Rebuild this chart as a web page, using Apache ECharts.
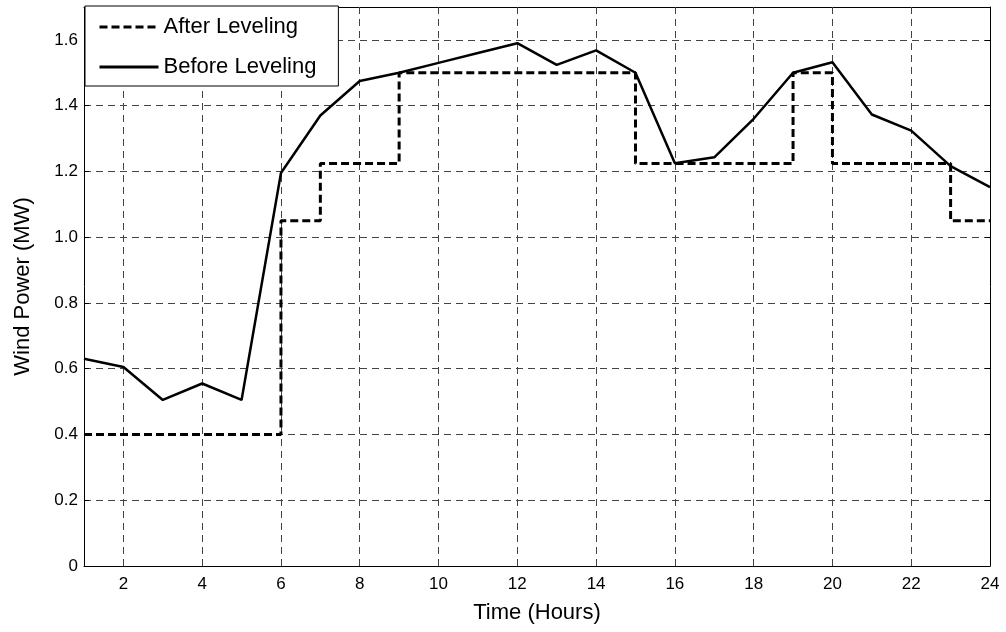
<!DOCTYPE html>
<html>
<head>
<meta charset="utf-8">
<script src="https://cdn.jsdelivr.net/npm/echarts@6/dist/echarts.min.js"></script>
<style>
html,body{margin:0;padding:0;background:#fff;}
#chart{width:1006px;height:632px;}
</style>
</head>
<body>
<div id="chart"></div>
<script>
var hours = [1,2,3,4,5,6,7,8,9,10,11,12,13,14,15,16,17,18,19,20,21,22,23,24];
var beforeLeveling = [0.63,0.605,0.505,0.555,0.505,1.195,1.37,1.475,1.5,1.53,1.56,1.59,1.524,1.568,1.5,1.225,1.243,1.36,1.5,1.532,1.373,1.324,1.216,1.152];
var afterLeveling = [0.4,0.4,0.4,0.4,0.4,1.05,1.224,1.224,1.5,1.5,1.5,1.5,1.5,1.5,1.224,1.224,1.224,1.224,1.5,1.224,1.224,1.224,1.05,1.05];
var xTicks = [2,4,6,8,10,12,14,16,18,20,22,24];
var seriesNames = ['After Leveling','Before Leveling'];
var xTitle = 'Time (Hours)';
var yTitle = 'Wind Power (MW)';

var FONT = 'Liberation Sans, Arial, sans-serif';
var chart = echarts.init(document.getElementById('chart'));
function pairs(xs, ys){ return xs.map(function(x,i){return [x, ys[i]];}); }
var gridDash = {color:'#444', width:1, type:[7,5]};

var xBase = {
  type:'value', min:1, max:24,
  axisLine:{show:true, onZero:false, lineStyle:{color:'#000', width:1}},
  axisTick:{show:true, inside:true, length:5, customValues:xTicks, lineStyle:{color:'#000'}},
  splitLine:{show:false}
};
var yBase = {
  type:'value', min:0, max:1.7, interval:0.2,
  axisLine:{show:true, onZero:false, lineStyle:{color:'#000', width:1}},
  axisTick:{show:true, inside:true, length:5, lineStyle:{color:'#000'}}
};

var option = {
  animation:false,
  backgroundColor:'#fff',
  grid:{left:84, right:16, top:7, bottom:66, show:false},
  legend:{
    orient:'vertical', left:85, top:6,
    padding:[10,22,8,13],
    itemWidth:59, itemHeight:20, itemGap:18,
    backgroundColor:'#fff', borderColor:'#000', borderWidth:1,
    itemStyle:{opacity:0},
    lineStyle:{width:3},
    textStyle:{fontFamily:FONT, fontSize:22, color:'#000'},
    data:seriesNames
  },
  xAxis:[
    Object.assign({}, xBase, {
      position:'bottom',
      name:xTitle, nameLocation:'middle', nameGap:36,
      nameTextStyle:{fontFamily:FONT, fontSize:22, color:'#000'},
      axisLabel:{show:true, customValues:xTicks, margin:10, fontFamily:FONT, fontSize:17, color:'#000'}
    }),
    Object.assign({}, xBase, {position:'top', axisLabel:{show:false}})
  ],
  yAxis:[
    Object.assign({}, yBase, {
      position:'left',
      name:yTitle, nameLocation:'middle', nameGap:50,
      nameTextStyle:{fontFamily:FONT, fontSize:22, color:'#000'},
      axisLabel:{margin:6, fontFamily:FONT, fontSize:17, color:'#000',
        formatter:function(v){ if (v > 1.65) return ''; return v === 0 ? '0' : v.toFixed(1); }},
      splitLine:{show:true, lineStyle:gridDash}
    }),
    Object.assign({}, yBase, {position:'right', axisLabel:{show:false}, splitLine:{show:false}})
  ],
  series:[
    {
      name:seriesNames[0], type:'line', step:'end',
      data:pairs(hours, afterLeveling),
      symbol:'none', z:4,
      lineStyle:{color:'#000', width:3, type:[8,4]},
      itemStyle:{color:'#000'},
      markLine:{
        silent:true, symbol:['none','none'], label:{show:false},
        lineStyle:gridDash, z:1,
        data:xTicks.slice(0, xTicks.length-1).map(function(v){return {xAxis:v};})
      }
    },
    {
      name:seriesNames[1], type:'line',
      data:pairs(hours, beforeLeveling),
      symbol:'none', z:5,
      lineStyle:{color:'#000', width:2.5, type:'solid'},
      itemStyle:{color:'#000'}
    }
  ]
};
chart.setOption(option);
</script>
</body>
</html>
